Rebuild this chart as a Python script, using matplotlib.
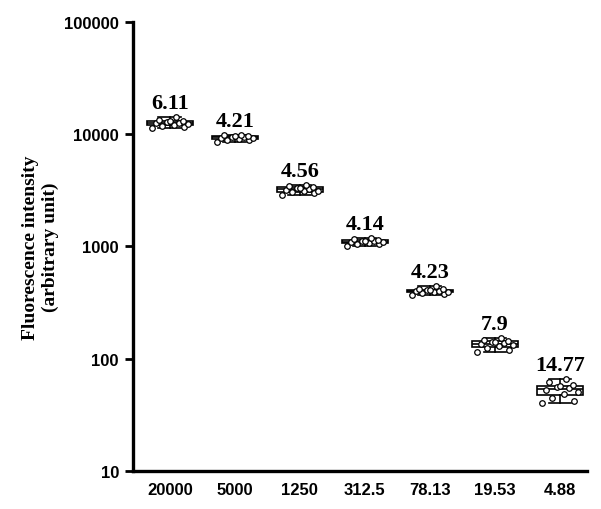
import matplotlib.pyplot as plt
import numpy as np

# 希釈系列 (x 軸ラベル)
dilutions = ['20000', '5000', '1250', '312.5', '78.13', '19.53', '4.88']
cv_labels = ['6.11', '4.21', '4.56', '4.14', '4.23', '7.9', '14.77']

# 各希釈の蛍光強度 (12 点ずつ, 図から読み取り)
g_20000 = [11400, 11700, 11900, 12100, 12300, 12500, 12600, 12800, 13000, 13200, 13500, 14100]
g_5000 = [8600, 8800, 8900, 9000, 9200, 9300, 9400, 9500, 9600, 9700, 9800, 9900]
g_1250 = [2900, 3000, 3050, 3100, 3150, 3200, 3250, 3300, 3350, 3400, 3450, 3500]
g_312 = [1020, 1050, 1060, 1080, 1090, 1100, 1110, 1120, 1130, 1150, 1170, 1180]
g_78 = [370, 380, 388, 392, 396, 400, 403, 407, 410, 415, 420, 445]
g_19 = [116, 120, 125, 129, 132, 135, 137, 140, 142, 145, 148, 152]
g_4 = [40, 42, 45, 49, 51, 53, 55, 56, 57, 58, 62, 66]
groups = [g_20000, g_5000, g_1250, g_312, g_78, g_19, g_4]

SERIF = ['Liberation Serif', 'DejaVu Serif']
SANS = ['Liberation Sans', 'DejaVu Sans']


def main():
    fig = plt.figure(figsize=(6.01, 5.10), dpi=100)
    ax = fig.add_axes([0.221, 0.0745, 0.756, 0.8805])

    pos = np.arange(len(groups))
    ax.boxplot(groups, positions=pos, widths=0.7, whis=(0, 100),
               patch_artist=True, showfliers=False,
               boxprops=dict(facecolor='white', edgecolor='black', linewidth=1.2),
               medianprops=dict(color='black', linewidth=1.2),
               whiskerprops=dict(color='black', linewidth=1.2),
               capprops=dict(color='black', linewidth=1.2),
               capwidths=0.35)

    # 点を横に散らす (固定パターン)
    offs = np.array([-0.28, 0.22, -0.12, 0.06, 0.28, -0.22, 0.14, -0.04, 0.0, 0.2, -0.16, 0.1])
    for i, g in enumerate(groups):
        ax.scatter(pos[i] + offs[:len(g)], g, s=16, facecolor='white',
                   edgecolor='black', linewidth=0.9, zorder=3)
        ax.annotate(cv_labels[i], (pos[i], max(g)), xytext=(0, 3),
                    textcoords='offset points', ha='center', va='bottom',
                    fontsize=16, fontweight='bold', family=SERIF)

    ax.set_yscale('log')
    ax.set_ylim(10, 100000)
    ax.set_xlim(-0.57, 6.42)
    ax.set_yticks([10, 100, 1000, 10000, 100000])
    ax.set_yticklabels(['10', '100', '1000', '10000', '100000'])
    ax.yaxis.set_minor_locator(plt.NullLocator())
    ax.set_xticks(pos)
    ax.set_xticklabels(dilutions)
    for lab in ax.get_xticklabels() + ax.get_yticklabels():
        lab.set_fontweight('bold')
        lab.set_fontsize(12)
        lab.set_family(SANS)
    ax.tick_params(axis='x', length=0, pad=8)
    ax.tick_params(axis='y', length=6, width=2, pad=4)

    ax.set_ylabel('Fluorescence intensity\n(arbitrary unit)', fontsize=14,
                  fontweight='bold', family=SERIF, labelpad=4)

    for s in ['top', 'right']:
        ax.spines[s].set_visible(False)
    for s in ['left', 'bottom']:
        ax.spines[s].set_linewidth(2.4)

    fig.savefig('out.png', dpi=100)


if __name__ == "__main__":
    main()
